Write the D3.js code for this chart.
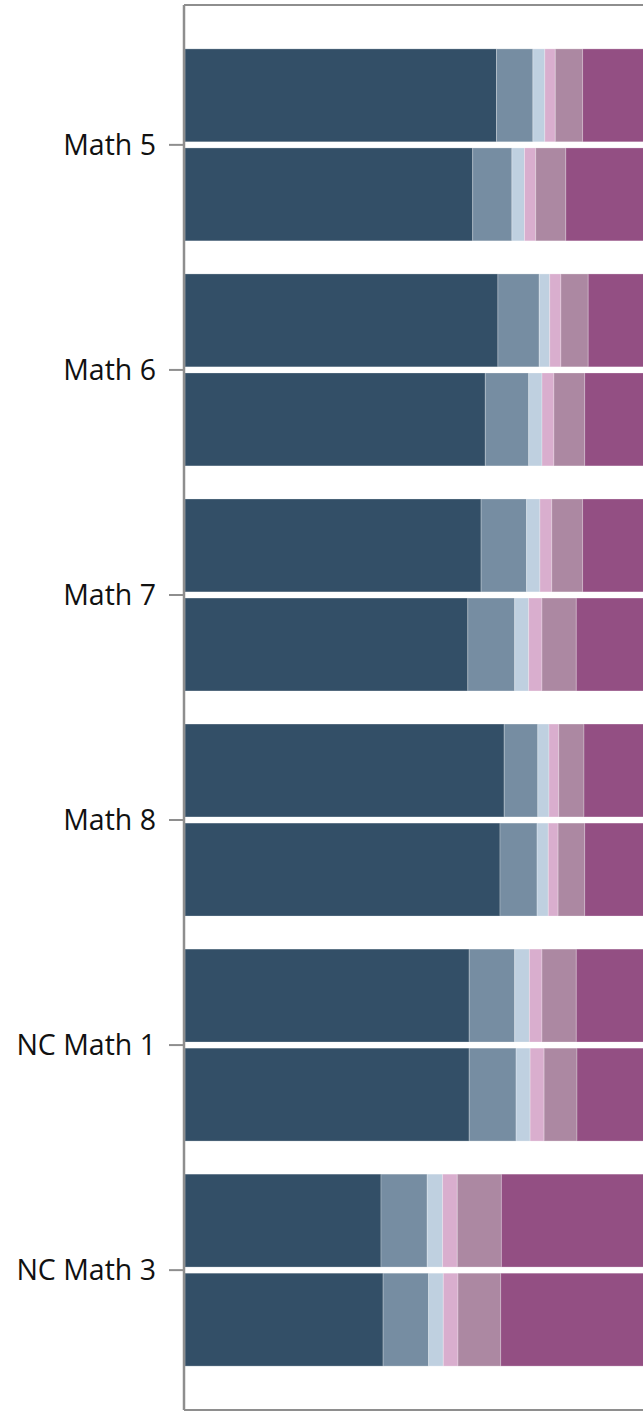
<!DOCTYPE html>
<html>
<head>
<meta charset="utf-8">
<script src="https://cdn.jsdelivr.net/npm/d3@7"></script>
<style>
  html, body { margin: 0; padding: 0; background: #fff; }
  svg { display: block; }
</style>
</head>
<body>
<svg id="chart" width="643" height="1412"></svg>
<script>
const categories = ["Math 5", "Math 6", "Math 7", "Math 8", "NC Math 1", "NC Math 3"];
const groups = ["A", "B"];
const levels = ["L1", "L2", "L3", "L4", "L5", "L6"];
const colors = ["#334f67", "#768da2", "#bfd0e0", "#d9aece", "#ac88a2", "#934f83"];

// values per category, pairs [top bar, bottom bar]
const level1 = [[44.5, 41.1], [44.7, 42.9], [42.3, 40.4], [45.6, 45.0], [40.6, 40.6], [28.0, 28.3]];
const level2 = [[5.2, 5.6], [5.9, 6.2], [6.5, 6.7], [4.8, 5.3], [6.5, 6.7], [6.6, 6.5]];
const level3 = [[1.7, 1.8], [1.5, 1.9], [1.9, 2.0], [1.6, 1.6], [2.1, 2.0], [2.2, 2.1]];
const level4 = [[1.5, 1.6], [1.6, 1.7], [1.7, 1.9], [1.4, 1.4], [1.8, 2.0], [2.1, 2.1]];
const level5 = [[3.9, 4.3], [3.9, 4.4], [4.4, 4.9], [3.6, 3.8], [4.9, 4.7], [6.3, 6.1]];
const level6 = [[43.2, 45.6], [42.4, 42.9], [43.2, 44.1], [43.0, 42.9], [44.1, 44.0], [54.8, 54.9]];
const levelData = [level1, level2, level3, level4, level5, level6];

const rows = [];
categories.forEach((c, ci) => {
  groups.forEach((g, gi) => {
    const r = { category: c, group: g };
    levels.forEach((l, li) => { r[l] = levelData[li][ci][gi]; });
    rows.push(r);
  });
});

const svg = d3.select("#chart");
const mLeft = 185, mTop = 5, mBottom = 1410;

const x = d3.scaleLinear().domain([0, 100]).range([mLeft, mLeft + 700]);
const y0 = d3.scaleBand().domain(categories).range([mTop, mBottom])
  .paddingInner(0.147).paddingOuter(0.195);
const y1 = d3.scaleBand().domain(groups).range([0, y0.bandwidth()]).paddingInner(0.062);
const color = d3.scaleOrdinal().domain(levels).range(colors);

const stacked = d3.stack().keys(levels)(rows);

svg.append("defs").append("clipPath").attr("id", "plotclip")
  .append("rect").attr("x", mLeft).attr("y", mTop).attr("width", 643 - mLeft).attr("height", mBottom - mTop);

const gBars = svg.append("g").attr("clip-path", "url(#plotclip)");
gBars.selectAll("g.layer").data(stacked).join("g")
  .attr("class", "layer")
  .attr("fill", d => color(d.key))
  .selectAll("rect").data(d => d).join("rect")
  .attr("x", d => x(d[0]))
  .attr("width", d => x(d[1]) - x(d[0]))
  .attr("y", d => y0(d.data.category) + y1(d.data.group))
  .attr("height", y1.bandwidth())
  .attr("stroke", "#ffffff")
  .attr("stroke-opacity", 0.25)
  .attr("stroke-width", 1);

// frame
const frameColor = "#8e8e8e";
svg.append("line").attr("x1", mLeft - 1).attr("x2", 643).attr("y1", mTop).attr("y2", mTop)
  .attr("stroke", frameColor).attr("stroke-width", 2);
svg.append("line").attr("x1", mLeft - 1).attr("x2", 643).attr("y1", mBottom).attr("y2", mBottom)
  .attr("stroke", frameColor).attr("stroke-width", 2);

const yAxis = d3.axisLeft(y0).tickSize(15).tickPadding(13);
const ga = svg.append("g").attr("transform", `translate(${mLeft - 1},0)`).call(yAxis);
ga.select(".domain").attr("stroke", frameColor).attr("stroke-width", 2.5)
  .attr("d", `M0,${mTop}V${mBottom}`);
ga.selectAll(".tick line").attr("stroke", frameColor).attr("stroke-width", 2);
ga.selectAll(".tick text")
  .attr("fill", "#111")
  .attr("dy", "0.36em")
  .style("font-family", "'Open Sans', 'Noto Sans', sans-serif")
  .style("font-size", "28.5px");
</script>
</body>
</html>
